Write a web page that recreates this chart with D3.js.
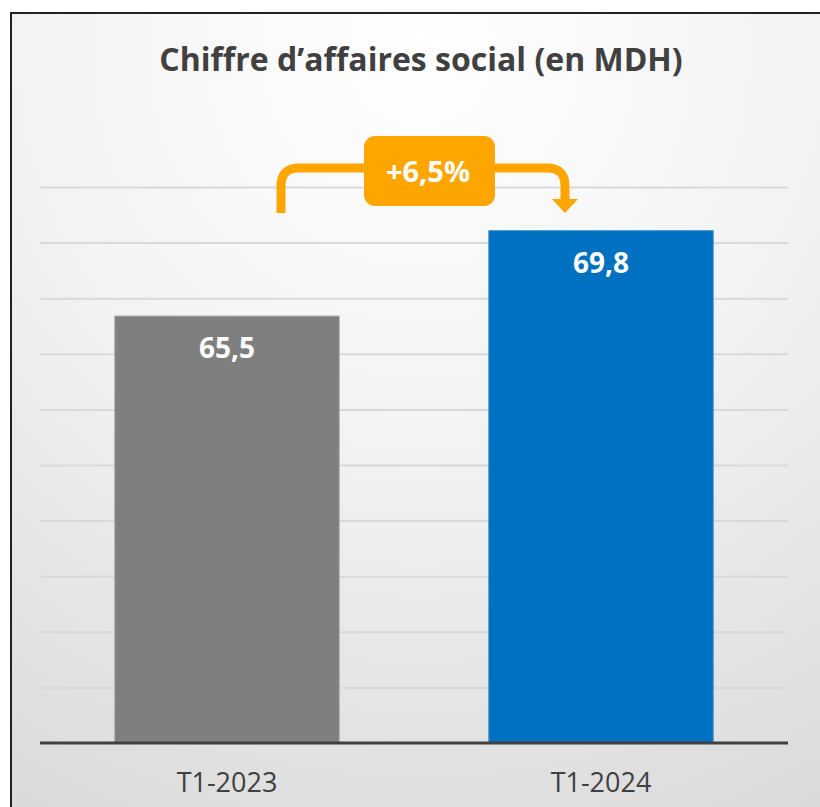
<!DOCTYPE html>
<html>
<head>
<meta charset="utf-8">
<script src="https://cdn.jsdelivr.net/npm/d3@7"></script>
<style>
  body { margin: 0; background: #fff; }
  svg { display: block; }
</style>
</head>
<body>
<script>
// data
const categories = ['T1-2023', 'T1-2024'];
const values = [65.5, 69.8];
const valueLabels = ['65,5', '69,8'];
const barColors = ['#7f7f7f', '#0070c0'];
const growthLabel = '+6,5%';
const title = 'Chiffre d\u2019affaires social (en MDH)';

const W = 820, H = 807;
const plot = { left: 40, right: 788, top: 187, bottom: 743 };

const svg = d3.select('body').append('svg')
  .attr('width', W)
  .attr('height', H);

// background gradient
const defs = svg.append('defs');
const grad = defs.append('radialGradient')
  .attr('id', 'bg')
  .attr('cx', '50%').attr('cy', '5%').attr('r', '105%')
  .attr('fx', '50%').attr('fy', '5%');
grad.append('stop').attr('offset', '0%').attr('stop-color', '#ffffff');
grad.append('stop').attr('offset', '45%').attr('stop-color', '#f3f3f3');
grad.append('stop').attr('offset', '100%').attr('stop-color', '#dadada');

svg.append('rect')
  .attr('x', 11).attr('y', 13)
  .attr('width', W).attr('height', H)
  .attr('fill', 'url(#bg)')
  .attr('stroke', '#222')
  .attr('stroke-width', 2);

// scales
const x = d3.scaleBand().domain(categories).range([plot.left, plot.right]).padding(0);
const y = d3.scaleLinear().domain([44, 72]).range([plot.bottom, plot.top]);
const gridValues = d3.range(1, 11).map(i => 44 + i * 2.8);

// gridlines
svg.append('g')
  .attr('class', 'grid')
  .attr('transform', `translate(${plot.left},0)`)
  .call(d3.axisLeft(y).tickValues(gridValues).tickSize(-(plot.right - plot.left)).tickFormat(''))
  .call(g => g.select('.domain').remove())
  .call(g => g.selectAll('line').attr('stroke', '#d9d9d9').attr('stroke-width', 2));

// title
svg.append('text')
  .attr('x', 421).attr('y', 71)
  .attr('text-anchor', 'middle')
  .attr('font-family', 'Open Sans, sans-serif')
  .attr('font-weight', 'bold')
  .attr('font-size', 32)
  .attr('fill', '#404040')
  .text(title);

// bars
const barW = x.bandwidth() * 0.6;
const bars = svg.selectAll('.bar')
  .data(values)
  .enter()
  .append('g');

bars.append('rect')
  .attr('class', 'bar')
  .attr('x', (d, i) => x(categories[i]) + (x.bandwidth() - barW) / 2)
  .attr('y', d => y(d))
  .attr('width', barW)
  .attr('height', d => y(44) - y(d))
  .attr('fill', (d, i) => barColors[i])
  .attr('stroke', (d, i) => i === 0 ? '#a6a6a6' : '#3a8fd0')
  .attr('stroke-width', 1);

bars.append('text')
  .attr('x', (d, i) => x(categories[i]) + x.bandwidth() / 2)
  .attr('y', d => y(d) + 42)
  .attr('text-anchor', 'middle')
  .attr('font-family', 'Open Sans, sans-serif')
  .attr('font-weight', 'bold')
  .attr('font-size', 28)
  .attr('fill', '#fff')
  .text((d, i) => valueLabels[i]);

// x axis baseline and labels
svg.append('line')
  .attr('x1', plot.left).attr('x2', plot.right)
  .attr('y1', y(44)).attr('y2', y(44))
  .attr('stroke', '#404040')
  .attr('stroke-width', 3);

svg.append('g')
  .selectAll('text')
  .data(categories)
  .enter()
  .append('text')
  .attr('x', d => x(d) + x.bandwidth() / 2)
  .attr('y', 792)
  .attr('text-anchor', 'middle')
  .attr('font-family', 'Open Sans, sans-serif')
  .attr('font-size', 27)
  .attr('fill', '#404040')
  .text(d => d);

// growth annotation
const orange = '#ffa500';
const cx0 = x(categories[0]) + x.bandwidth() / 2;
const cx1 = x(categories[1]) + x.bandwidth() / 2;
const lx = cx0 + 54, rx = cx1 - 36, ly = 168, r = 18;
const ann = svg.append('g');
ann.append('path')
  .attr('d', `M${lx},213 V${ly + r} Q${lx},${ly} ${lx + r},${ly} H${rx - r} Q${rx},${ly} ${rx},${ly + r} V201`)
  .attr('fill', 'none')
  .attr('stroke', orange)
  .attr('stroke-width', 9);
ann.append('path')
  .attr('d', `M${rx - 13},199 L${rx + 13},199 L${rx},213 Z`)
  .attr('fill', orange);
ann.append('rect')
  .attr('x', 364).attr('y', 136)
  .attr('width', 131).attr('height', 70)
  .attr('rx', 11)
  .attr('fill', orange);
ann.append('text')
  .attr('x', 428).attr('y', 182)
  .attr('text-anchor', 'middle')
  .attr('font-family', 'Open Sans, sans-serif')
  .attr('font-weight', 'bold')
  .attr('font-size', 29)
  .attr('fill', '#fff')
  .text(growthLabel);
</script>
</body>
</html>
